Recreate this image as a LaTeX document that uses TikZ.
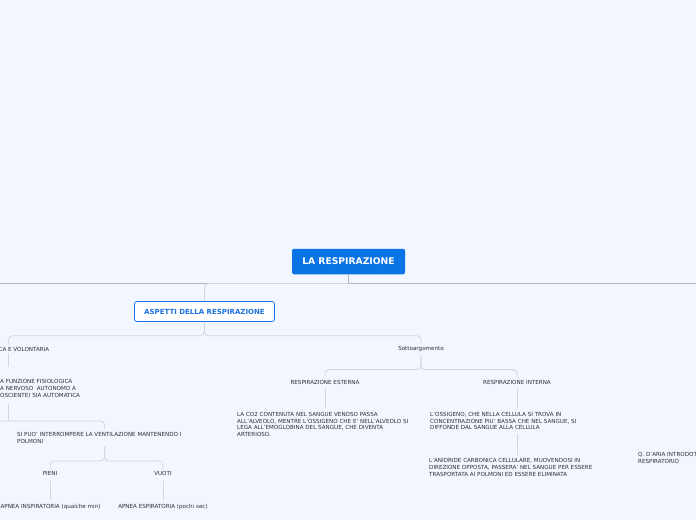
\documentclass[tikz,border=0pt]{standalone}
\usepackage{fontspec}
\setmainfont{DejaVu Sans}
\usepackage{tikz}
\usetikzlibrary{positioning}

\definecolor{bgblue}{HTML}{F2F6FF}
\definecolor{rootblue}{HTML}{0A73E6}
\definecolor{boxblue}{HTML}{1C72E0}
\definecolor{txtgray}{HTML}{2F2F2F}
\definecolor{trunkgray}{HTML}{B4B6BB}
\definecolor{linkgray}{HTML}{D2D5DD}

\begin{document}
\begin{tikzpicture}[x=1pt,y=-1pt,
   every node/.style={font=\fontsize{5.6}{6.8}\selectfont,text=txtgray,inner sep=2pt},
   rootbox/.style={fill=rootblue,text=white,rounded corners=2pt,
      font=\bfseries\fontsize{9.2}{11}\selectfont,minimum width=113pt,minimum height=25.5pt},
   topicbox/.style={draw=boxblue,line width=0.8pt,fill=white,text=boxblue,rounded corners=2.5pt,
      font=\bfseries\fontsize{7}{8}\selectfont,minimum width=140pt,minimum height=20pt},
   leaf/.style={align=left,anchor=north west},
   trunk/.style={draw=trunkgray,line width=1.6pt},
   link/.style={draw=linkgray,line width=0.8pt,rounded corners=4pt}]
\useasboundingbox[fill=bgblue] (0,0) rectangle (696,520);
\clip (0,0) rectangle (696,520);

% main topics
\node[rootbox] (resp) at (348.5,261.5) {LA RESPIRAZIONE};
\node[topicbox] (aspetti) at (204.5,311.5) {ASPETTI DELLA RESPIRAZIONE};

% left branch
\node[anchor=east] (volont) at (51.5,349) {CA E VOLONTARIA};
\node[leaf] (funz) at (-2,377.5) {A FUNZIONE FISIOLOGICA\\A NERVOSO\ \ AUTONOMO A\\OSCIENTE) SIA AUTOMATICA};
\node[leaf] (puo) at (15,430) {SI PUO' INTERROMPERE LA VENTILAZIONE MANTENENDO I\\POLMONI};
\node (pieni) at (50,473.5) {PIENI};
\node (vuoti) at (163,473.5) {VUOTI};
\node (apneai) at (50.5,507) {APNEA INSPIRATORIA (qualche min)};
\node (apneae) at (163,507) {APNEA ESPIRATORIA (pochi sec)};

% right branch
\node (sotto) at (421,349) {Sottoargomento};
\node (esterna) at (325,382) {RESPIRAZIONE ESTERNA};
\node (interna) at (517,382) {RESPIRAZIONE INTERNA};
\node[leaf] (co2) at (235,410) {LA CO2 CONTENUTA NEL SANGUE VENOSO PASSA\\ALL'ALVEOLO, MENTRE L'OSSIGENO CHE E' NELL'ALVEOLO SI\\LEGA ALL'EMOGLOBINA DEL SANGUE, CHE DIVENTA\\ARTERIOSO.};
\node[leaf] (ossig) at (428,410) {L'OSSIGENO, CHE NELLA CELLULA SI TROVA IN\\CONCENTRAZIONE PIU' BASSA CHE NEL SANGUE, SI\\DIFFONDE DAL SANGUE ALLA CELLULA};
\node[leaf] (anidr) at (427,456.5) {L'ANIDRIDE CARBONICA CELLULARE, MUOVENDOSI IN\\DIREZIONE OPPOSTA, PASSERA' NEL SANGUE PER ESSERE\\TRASPORTATA AI POLMONI ED ESSERE ELIMINATA};
\node[leaf] (qaria) at (636,450.5) {Q. D'ARIA INTRODOT\\RESPIRATORIO};

% branch positions
\coordinate (trunkL) at (-5,283.5);
\coordinate (trunkR) at (701,283.5);
\coordinate (lx) at (8.3,0);
\coordinate (px) at (104.7,0);
\coordinate (forkA) at (8.3,421);

% connectors
\draw[trunk] (trunkL) -- (trunkR);
\draw[draw=trunkgray,line width=1.2pt] (resp.south) -- (resp.south |- trunkL);
\draw[link] (resp.south |- trunkL) -| (aspetti.north);
\draw[link] (aspetti.south) -- ++(0,13.8) -| (sotto.north);
\draw[link] (aspetti.south) -- ++(0,13.8) -| (lx |- volont.north);
\draw[link,shorten >=11pt] (lx |- volont.south) -- (lx |- funz.north);
\draw[link] ([yshift=-4pt]lx |- funz.south) -- (forkA);
\draw[link] (forkA -| trunkL) -| (px |- puo.north);
\draw[link] ([yshift=-1pt]px |- puo.south) -- ++(0,14.5) -| (pieni.north);
\draw[link] ([yshift=-1pt]px |- puo.south) -- ++(0,14.5) -| (vuoti.north);
\draw[link,shorten <=3pt,shorten >=2pt] (pieni.south) -- (pieni.south |- apneai.north);
\draw[link,shorten <=3pt,shorten >=2pt] (vuoti.south) -- (vuoti.south |- apneae.north);
\draw[link] ([yshift=-2pt]sotto.south) -- ++(0,13.7) -| (esterna.north);
\draw[link] ([yshift=-2pt]sotto.south) -- ++(0,13.7) -| (interna.north);
\draw[link,shorten <=3pt,shorten >=2pt] (esterna.south) -- (esterna.south |- co2.north);
\draw[link,shorten <=3pt,shorten >=2pt] (interna.south) -- (interna.south |- ossig.north);
\draw[link,shorten <=2pt,shorten >=2pt] (interna.south |- ossig.south) -- (interna.south |- anidr.north);
\end{tikzpicture}
\end{document}
